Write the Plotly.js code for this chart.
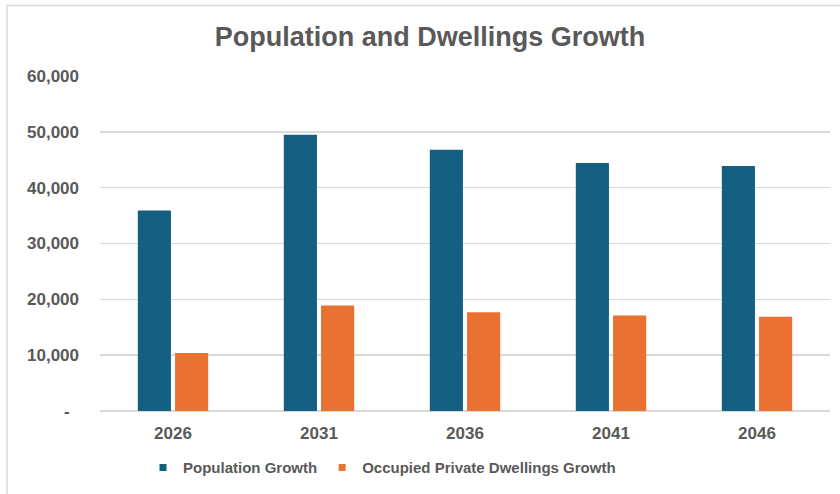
<!DOCTYPE html>
<html>
<head>
<meta charset="utf-8">
<script src="https://cdn.plot.ly/plotly-3.0.1.min.js"></script>
<style>
  html, body { margin: 0; padding: 0; background: #ffffff; }
  #chart { width: 840px; height: 494px; }
</style>
</head>
<body>
<div id="chart"></div>
<script>
const years = ['2026', '2031', '2036', '2041', '2046'];
const populationGrowth = [35900, 49500, 46800, 44400, 43900];
const dwellingsGrowth = [10400, 18900, 17700, 17100, 16900];
const seriesNames = ['Population Growth', 'Occupied Private Dwellings Growth'];
const yTickVals = [0, 10000, 20000, 30000, 40000, 50000, 60000];
const yTickText = ['-\u00a0\u00a0', '10,000', '20,000', '30,000', '40,000', '50,000', '60,000'];

const blue = '#156082';
const orange = '#E97132';
const grey = '#595959';
const fontFam = 'Liberation Sans, Arial, sans-serif';

const traces = [
  { type: 'bar', x: years, y: populationGrowth, name: seriesNames[0],
    marker: { color: blue }, showlegend: false, hoverinfo: 'y' },
  { type: 'bar', x: years, y: dwellingsGrowth, name: seriesNames[1],
    marker: { color: orange }, showlegend: false, hoverinfo: 'y' },
  { type: 'scatter', mode: 'markers', x: [null], y: [null], name: seriesNames[0],
    marker: { symbol: 'square', size: 7, color: blue } },
  { type: 'scatter', mode: 'markers', x: [null], y: [null], name: seriesNames[1],
    marker: { symbol: 'square', size: 7, color: orange } }
];

const layout = {
  width: 840, height: 494,
  margin: { l: 100, r: 10, t: 76, b: 81 },
  paper_bgcolor: '#ffffff', plot_bgcolor: '#ffffff',
  font: { family: fontFam, color: grey },
  title: {
    text: '<b>Population and Dwellings Growth</b>',
    font: { family: fontFam, size: 27, color: grey },
    x: 430 / 840, xref: 'container', xanchor: 'center',
    y: 1 - 37 / 494, yref: 'container', yanchor: 'middle'
  },
  barmode: 'group',
  bargap: 0.49,
  bargroupgap: 0.11,
  xaxis: {
    type: 'category',
    tickfont: { family: fontFam, size: 17, color: grey, weight: 'bold' },
    showgrid: false, zeroline: false, showline: false, ticks: '',
    ticklabelstandoff: 10
  },
  yaxis: {
    range: [0, 60000],
    tickvals: yTickVals, ticktext: yTickText,
    tickfont: { family: fontFam, size: 17, color: grey, weight: 'bold' },
    showgrid: true, gridcolor: '#d9d9d9', gridwidth: 1.5,
    zeroline: true, zerolinecolor: '#d9d9d9', zerolinewidth: 1.5,
    showline: false, ticks: '',
    ticklabelstandoff: 20
  },
  legend: {
    orientation: 'h',
    x: (143 - 100) / 730, xanchor: 'left',
    y: (413 - 470) / 337, yanchor: 'middle',
    font: { family: fontFam, size: 15, color: grey, weight: 'bold' },
    bgcolor: 'rgba(0,0,0,0)'
  },
  shapes: [
    { type: 'rect', xref: 'paper', yref: 'paper', layer: 'below',
      x0: (7 - 100) / 730, x1: 1.2, y0: -0.5, y1: (413 - 5) / 337,
      line: { color: '#d9d9d9', width: 1.5 }, fillcolor: 'rgba(0,0,0,0)' }
  ]
};

Plotly.newPlot('chart', traces, layout, { displayModeBar: false, staticPlot: true });
</script>
</body>
</html>
